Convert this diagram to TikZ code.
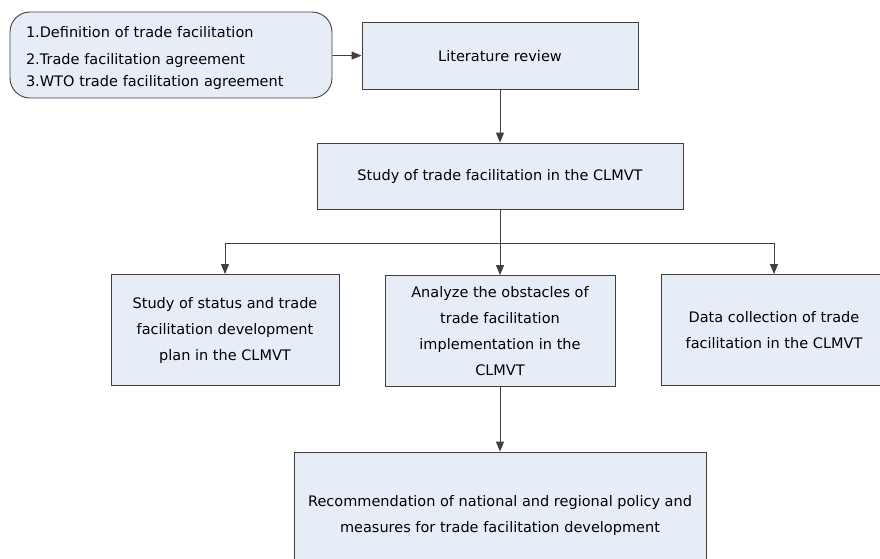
\documentclass[tikz,border=0pt]{standalone}
\usepackage{fontspec}
\setmainfont{DejaVu Sans}
\usetikzlibrary{arrows.meta}
\definecolor{boxfill}{RGB}{231,237,247}
\definecolor{boxline}{RGB}{64,64,64}
\begin{document}
\begin{tikzpicture}[
  x=1pt, y=-1pt,
  box/.style={draw=boxline, fill=boxfill, line width=0.9pt, align=center, inner sep=0pt,
    font=\fontsize{14.5}{26}\selectfont},
  link/.style={->, boxline, line width=0.9pt},
  >={Triangle[length=10pt,width=8pt]}
]
\useasboundingbox (0,0) rectangle (880,558);
\clip (0,0) rectangle (880,558);
\node[box, rounded corners=20pt, align=left, minimum width=322pt, minimum height=86pt,
  text width=290pt, font=\fontsize{14.5}{22}\selectfont] (topics) at (171,55)
  {\rule{0pt}{18pt}1.Definition of trade facilitation\\[5pt]2.Trade facilitation agreement\\3.WTO trade facilitation agreement};
\node[box, minimum width=276pt, minimum height=67pt] (lit) at (500,56) {Literature review};
\node[box, minimum width=366pt, minimum height=66pt] (study) at (500,176) {Study of trade facilitation in the CLMVT};
\node[box, minimum width=228pt, minimum height=111pt] (status) at (225,330)
  {Study of status and trade\\facilitation development\\plan in the CLMVT};
\node[box, minimum width=230pt, minimum height=111pt] (obstacle) at (500,331)
  {Analyze the obstacles of\\trade facilitation\\implementation in the\\CLMVT};
\node[box, minimum width=226pt, minimum height=111pt] (data) at (774,330)
  {Data collection of trade\\facilitation in the CLMVT};
\node[box, minimum width=412pt, minimum height=126pt] (recom) at (500,515)
  {Recommendation of national and regional policy and\\measures for trade facilitation development};
\coordinate (fork) at (500,243);
\draw[link] (topics) -- (lit);
\draw[link] (lit) -- (study);
\draw[link, -] (study) -- (fork);
\draw[link] (fork) -| (status);
\draw[link] (fork) -- (obstacle);
\draw[link] (fork) -| (data);
\draw[link] (obstacle) -- (recom);
\end{tikzpicture}
\end{document}
